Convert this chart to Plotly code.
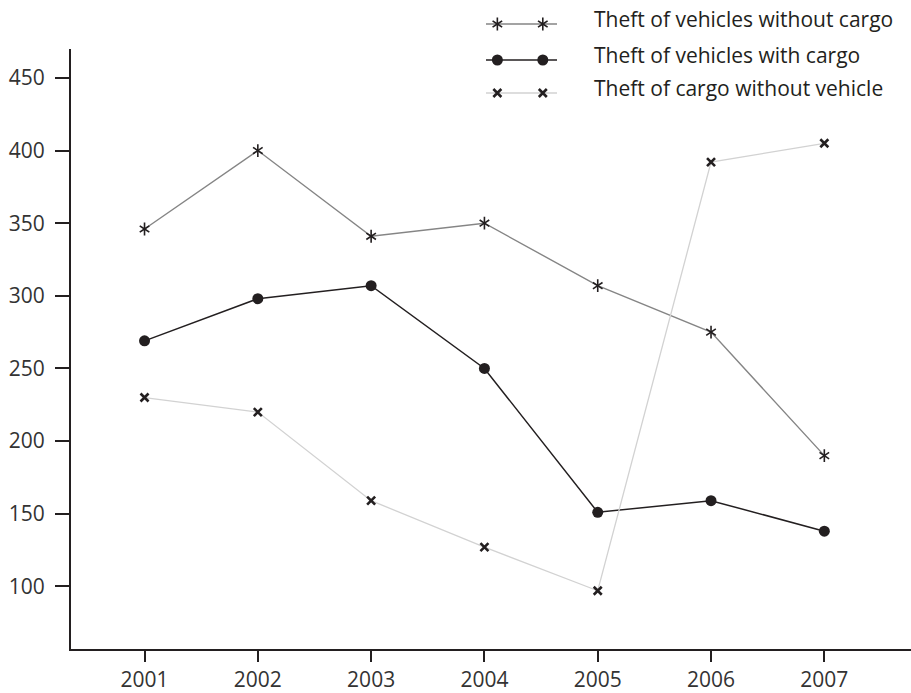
import plotly.graph_objects as go

# ---- data ----
years = [2001, 2002, 2003, 2004, 2005, 2006, 2007]
without_cargo = [346, 400, 341, 350, 307, 275, 190]
with_cargo = [269, 298, 307, 250, 151, 159, 138]
cargo_only = [230, 220, 159, 127, 97, 392, 405]
y_ticks = [100, 150, 200, 250, 300, 350, 400, 450]
series_names = ["Theft of vehicles without cargo",
                "Theft of vehicles with cargo",
                "Theft of cargo without vehicle"]

INK = "#231f20"
FONT = "Open Sans"
STAR_SIZE = 8

fig = go.Figure()

# series 1: gray line with 6-arm asterisks (y-up + y-down overlay)
fig.add_trace(go.Scatter(x=years, y=without_cargo, mode="lines",
                         line=dict(color="#858585", width=1.4),
                         hoverinfo="skip", showlegend=False))
for sym in ("y-up-open", "y-down-open"):
    fig.add_trace(go.Scatter(x=years, y=without_cargo, mode="markers",
                             marker=dict(symbol=sym, size=STAR_SIZE, color=INK,
                                         line=dict(color=INK, width=1.6)),
                             hoverinfo="skip", showlegend=False))

# series 2: black line with dots
fig.add_trace(go.Scatter(x=years, y=with_cargo, mode="lines+markers",
                         line=dict(color=INK, width=1.5),
                         marker=dict(symbol="circle", size=11, color=INK),
                         hoverinfo="skip", showlegend=False))

# series 3: light gray line with x markers
fig.add_trace(go.Scatter(x=years, y=cargo_only, mode="lines",
                         line=dict(color="#d2d2d2", width=1.3),
                         hoverinfo="skip", showlegend=False))
fig.add_trace(go.Scatter(x=years, y=cargo_only, mode="markers",
                         marker=dict(symbol="x-thin-open", size=8, color=INK,
                                     line=dict(color=INK, width=2.6)),
                         hoverinfo="skip", showlegend=False))

# ---- custom legend keys on a hidden helper subplot ----
rows = [24, 60, 93]
key_line = [0, 1]
key_marks = [0.16, 0.80]
styles = [
    dict(color="#858585", width=1.4),
    dict(color=INK, width=1.5),
    dict(color="#d2d2d2", width=1.3),
]
for i, r in enumerate(rows):
    fig.add_trace(go.Scatter(x=key_line, y=[r, r], mode="lines", line=styles[i],
                             xaxis="x2", yaxis="y2", hoverinfo="skip", showlegend=False))
    if i == 0:
        for sym in ("y-up-open", "y-down-open"):
            fig.add_trace(go.Scatter(x=key_marks, y=[r, r], mode="markers",
                                     marker=dict(symbol=sym, size=STAR_SIZE, color=INK,
                                                 line=dict(color=INK, width=1.6)),
                                     xaxis="x2", yaxis="y2", hoverinfo="skip", showlegend=False))
    elif i == 1:
        fig.add_trace(go.Scatter(x=key_marks, y=[r, r], mode="markers",
                                 marker=dict(symbol="circle", size=11, color=INK),
                                 xaxis="x2", yaxis="y2", hoverinfo="skip", showlegend=False))
    else:
        fig.add_trace(go.Scatter(x=key_marks, y=[r, r], mode="markers",
                                 marker=dict(symbol="x-thin-open", size=8, color=INK,
                                             line=dict(color=INK, width=2.6)),
                                 xaxis="x2", yaxis="y2", hoverinfo="skip", showlegend=False))
    fig.add_annotation(text=series_names[i], xref="paper", yref="y2",
                       x=(592 - 71) / 840, y=r - 5, xanchor="left", yanchor="middle",
                       showarrow=False, font=dict(family=FONT, size=21, color=INK))

fig.update_layout(
    width=911, height=693,
    margin=dict(l=71, r=0, t=0, b=44),
    paper_bgcolor="white", plot_bgcolor="white",
    hovermode=False,
    font=dict(family=FONT, size=21, color="#333333"),
    xaxis=dict(domain=[0, 1], range=[2000.351, 2007.765],
               tickmode="array", tickvals=years, ticktext=[str(y) for y in years],
               ticks="outside", ticklen=11, tickwidth=2, tickcolor=INK,
               showline=True, linewidth=2, linecolor=INK,
               showgrid=False, zeroline=False, fixedrange=True),
    yaxis=dict(domain=[0, 600 / 649], range=[56.9, 469.9],
               tickmode="array", tickvals=y_ticks,
               ticks="outside", ticklen=14, tickwidth=2, tickcolor=INK,
               ticklabelstandoff=6,
               showline=True, linewidth=2, linecolor=INK,
               showgrid=False, zeroline=False, fixedrange=True),
    xaxis2=dict(domain=[(486 - 71) / 840, (557 - 71) / 840], range=[0, 1],
                visible=False, anchor="y2", fixedrange=True),
    yaxis2=dict(domain=[(649 - 110) / 649, 1], range=[110, 0],
                visible=False, anchor="x2", fixedrange=True),
)

# remove the page's default 8px body margin so the figure fills the window
fig.write_html("out.html",
               config={"displayModeBar": False, "staticPlot": True},
               post_script="document.body.style.margin='0';")
